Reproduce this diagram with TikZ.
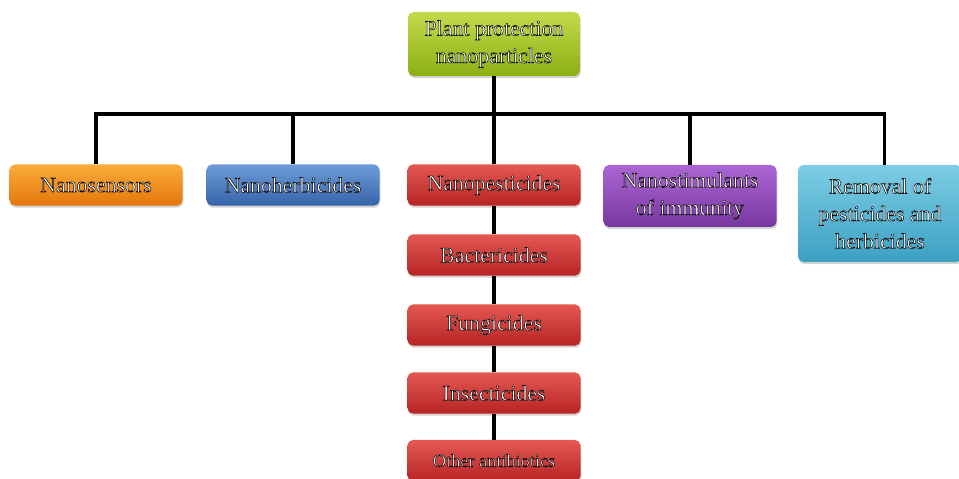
\documentclass[tikz,border=0pt]{standalone}
\usepackage{fontspec}
\setmainfont{Liberation Serif}
\usepackage{tikz}
\usetikzlibrary{shadows,calc}
\definecolor{GreenTop}{RGB}{195,218,75}
\definecolor{GreenBot}{RGB}{140,175,20}
\definecolor{OrangeTop}{RGB}{250,172,60}
\definecolor{OrangeBot}{RGB}{228,118,10}
\definecolor{BlueTop}{RGB}{110,155,215}
\definecolor{BlueBot}{RGB}{55,100,170}
\definecolor{RedTop}{RGB}{228,88,82}
\definecolor{RedBot}{RGB}{182,36,36}
\definecolor{PurpleTop}{RGB}{172,102,212}
\definecolor{PurpleBot}{RGB}{120,55,160}
\definecolor{CyanTop}{RGB}{125,205,228}
\definecolor{CyanBot}{RGB}{60,160,195}
% outlined white text: fill white, stroke black
\newcommand{\ol}[1]{\special{pdf:literal direct 1 1 1 rg 0 0 0 RG 0.35 w 2 Tr}#1\special{pdf:literal direct 0 Tr}}

\begin{document}
\begin{tikzpicture}[
  pbox/.style={rounded corners=4pt,minimum width=4.33cm,minimum height=1.03cm,
               align=center,text=white,font=\fontsize{15.5}{19.5}\selectfont,
               drop shadow={opacity=0.35,shadow xshift=0.5pt,shadow yshift=-1.5pt}},
  gbox/.style={pbox,top color=GreenTop,bottom color=GreenBot},
  obox/.style={pbox,top color=OrangeTop,bottom color=OrangeBot},
  bbox/.style={pbox,top color=BlueTop,bottom color=BlueBot},
  rbox/.style={pbox,top color=RedTop,bottom color=RedBot},
  vbox/.style={pbox,top color=PurpleTop,bottom color=PurpleBot},
  cbox/.style={pbox,top color=CyanTop,bottom color=CyanBot},
  link/.style={draw=black,line width=2.2pt},
]
\useasboundingbox (0,0) rectangle (23.975,11.975);
\node[gbox,minimum width=4.3cm,minimum height=1.6cm] (top) at (12.35,10.875)
  {\ol{Plant protection}\\\ol{nanoparticles}};
\coordinate (bus) at (12.35,9.125);
\node[obox] (sens) at (2.4,7.35) {\ol{Nanosensors}};
\node[bbox] (herb) at (7.325,7.35) {\ol{Nanoherbicides}};
\node[rbox] (pest) at (12.35,7.35) {\ol{Nanopesticides}};
\node[vbox,minimum height=1.55cm] (stim) at (17.25,7.075)
  {\ol{Nanostimulants}\\\ol{of immunity}};
\node[cbox,minimum width=4.1cm,minimum height=2.43cm] (rem) at (22.0,6.64)
  {\ol{Removal of}\\\ol{pesticides and}\\\ol{herbicides}};
\coordinate (remtop) at ($(rem.north)+(0.12,0)$);
\node[rbox] (bact) at (12.35,5.6) {\ol{Bactericides}};
\node[rbox] (fung) at (12.35,3.85) {\ol{Fungicides}};
\node[rbox] (inse) at (12.35,2.15) {\ol{Insecticides}};
\node[rbox,font=\fontsize{13}{16}\selectfont] (anti) at (12.35,0.46) {\ol{Other antibiotics}};
% tree lines
\draw[link] (top.south) -- (bus);
\foreach \n in {sens.north,herb.north,pest.north,stim.north,remtop}
  \draw[link] (bus) -| (\n);
\draw[link] (pest) -- (bact);
\draw[link] (bact) -- (fung);
\draw[link] (fung) -- (inse);
\draw[link] (inse) -- (anti);
\end{tikzpicture}
\end{document}
